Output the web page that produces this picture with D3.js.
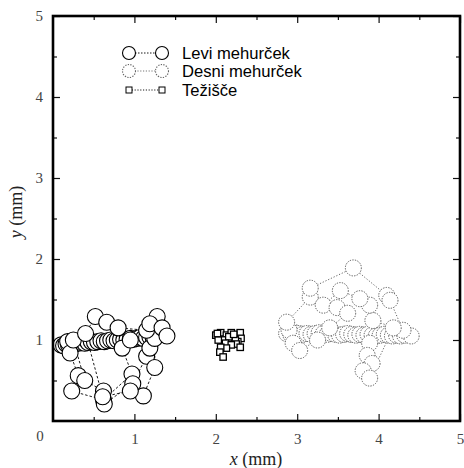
<!DOCTYPE html>
<html>
<head>
<meta charset="utf-8">
<script src="https://cdn.jsdelivr.net/npm/d3@7"></script>
<style>
  html, body { margin: 0; padding: 0; background: #fff; }
  svg { display: block; }
</style>
</head>
<body>
<svg id="chart" width="464" height="468"></svg>
<script>
// Tick values for both axes (mm)
const majorTicks = [1, 2, 3, 4, 5];
const minorTicks = [0.5, 1.5, 2.5, 3.5, 4.5];

// Left bubble centre positions: dense horizontal run, then the scattered excursions
const leftX = [0.10,0.13,0.16,0.19,0.23,0.27,0.31,0.35,0.39,0.43,0.47,0.51,0.55,0.59,0.63,0.67,0.71,0.75,0.79,0.83,0.87,0.91,0.95,0.99,1.03,1.07,1.11,1.15,1.19,1.23,
  0.18,0.21,0.31,0.23,0.62,0.97,0.85,0.95,
  0.25,0.39,0.62,0.63,0.98,1.15,1.19,
  1.25,1.25,1.11,0.95,0.61,
  0.40,0.52,0.66,0.80,
  1.15,1.28,1.19,1.34,1.40];
const leftY = [0.94,0.93,0.95,0.94,0.96,0.95,0.96,0.97,0.96,0.97,0.98,0.97,0.98,0.99,0.98,0.99,1.00,0.99,1.00,1.01,1.00,1.01,1.02,1.01,1.02,1.03,1.02,1.03,1.04,1.03,
  0.98,0.84,0.56,0.37,0.26,0.58,0.90,1.00,
  1.00,0.50,0.37,0.21,0.46,0.80,0.90,
  1.02,0.66,0.31,0.37,0.30,
  1.08,1.29,1.22,1.15,
  1.12,1.29,1.20,1.15,1.05];

// Right bubble centre positions
const rightX = [2.87,2.92,2.97,3.02,3.07,3.12,3.17,3.22,3.27,3.32,3.37,3.42,3.47,3.52,3.57,3.62,3.67,3.72,3.77,3.82,3.87,3.92,3.97,4.02,4.07,4.12,4.17,4.22,4.27,4.32,4.40,
  2.90,2.87,3.16,3.16,3.69,4.10,4.14,4.30,
  3.93,3.89,3.77,3.53,3.32,3.49,3.62,3.40,
  2.95,3.03,3.25,
  3.89,3.86,3.92,3.81,3.89,4.18];
const rightY = [1.08,1.07,1.09,1.08,1.07,1.08,1.07,1.08,1.09,1.08,1.07,1.08,1.07,1.06,1.07,1.08,1.07,1.06,1.07,1.06,1.07,1.06,1.05,1.06,1.07,1.06,1.05,1.06,1.05,1.06,1.05,
  1.12,1.22,1.53,1.64,1.89,1.55,1.49,1.12,
  1.24,1.43,1.51,1.61,1.43,1.40,1.33,1.15,
  0.96,0.87,1.00,
  0.96,0.81,0.71,0.62,0.53,1.15];

// Centroid positions
const centerX = [2.00,2.06,2.13,2.19,2.30,2.31,2.27,2.24,2.15,2.09,2.03,2.02,2.16,2.22,2.12,2.25,2.19,2.30,2.13,2.06,2.05,2.09];
const centerY = [1.06,1.09,1.06,1.09,1.09,1.02,0.98,1.00,1.00,1.00,1.00,1.08,1.04,1.07,0.96,0.95,0.94,0.91,0.90,0.91,0.85,0.79];

const legendLabels = ["Levi mehurček", "Desni mehurček", "Težišče"];

const svg = d3.select("#chart");
const x = d3.scaleLinear().domain([0, 5]).range([53, 460]);
const y = d3.scaleLinear().domain([0, 5]).range([421, 16]);
const R = 8;

const pts = (xs, ys) => xs.map((v, i) => [v, ys[i]]);
const line = d3.line().x(d => x(d[0])).y(d => y(d[1]));

// Axes: inward ticks on all four sides
const serif = "'Liberation Serif', 'Times New Roman', serif";
function styleAxis(g, hideLabels) {
  g.select(".domain").remove();
  g.selectAll(".tick line").attr("stroke", "#111").attr("stroke-width", 1.2);
  g.selectAll(".tick text").attr("font-family", serif).attr("font-size", 15).attr("fill", "#444");
  if (hideLabels) g.selectAll(".tick text").remove();
}
svg.append("g").attr("transform", `translate(0,${y(0)})`)
  .call(d3.axisBottom(x).tickValues(majorTicks).tickSize(-7).tickPadding(12).tickFormat(d3.format("d")))
  .call(g => styleAxis(g, false));
svg.append("g").attr("transform", `translate(0,${y(0)})`)
  .call(d3.axisBottom(x).tickValues(minorTicks).tickSize(-4))
  .call(g => styleAxis(g, true));
svg.append("g").attr("transform", `translate(${x(0)},0)`)
  .call(d3.axisLeft(y).tickValues(majorTicks).tickSize(-7).tickPadding(10).tickFormat(d3.format("d")))
  .call(g => styleAxis(g, false));
svg.append("g").attr("transform", `translate(${x(0)},0)`)
  .call(d3.axisLeft(y).tickValues(minorTicks).tickSize(-4))
  .call(g => styleAxis(g, true));
svg.append("g").attr("transform", `translate(0,${y(5)})`)
  .call(d3.axisTop(x).tickValues(majorTicks).tickSize(-7))
  .call(g => styleAxis(g, true));
svg.append("g").attr("transform", `translate(0,${y(5)})`)
  .call(d3.axisTop(x).tickValues(minorTicks).tickSize(-4))
  .call(g => styleAxis(g, true));
svg.append("g").attr("transform", `translate(${x(5)},0)`)
  .call(d3.axisRight(y).tickValues(majorTicks).tickSize(-7))
  .call(g => styleAxis(g, true));
svg.append("g").attr("transform", `translate(${x(5)},0)`)
  .call(d3.axisRight(y).tickValues(minorTicks).tickSize(-4))
  .call(g => styleAxis(g, true));

// shared origin label
svg.append("text").attr("x", x(0) - 13).attr("y", y(0) + 20)
  .attr("text-anchor", "middle").attr("font-family", serif).attr("font-size", 15).attr("fill", "#444").text("0");

// Axis titles
const xt = svg.append("text").attr("x", 256).attr("y", 465).attr("text-anchor", "middle")
  .attr("font-family", serif).attr("font-size", 18).attr("fill", "#222");
xt.append("tspan").attr("font-style", "italic").text("x");
xt.append("tspan").text(" (mm)");
const yt = svg.append("text").attr("transform", "translate(22,212) rotate(-90)").attr("text-anchor", "middle")
  .attr("font-family", serif).attr("font-size", 18).attr("fill", "#222");
yt.append("tspan").attr("font-style", "italic").text("y");
yt.append("tspan").text(" (mm)");

// Right bubble (dotted grey)
const rightPts = pts(rightX, rightY);
svg.append("path").datum(rightPts).attr("d", line).attr("fill", "none")
  .attr("stroke", "#555").attr("stroke-width", 0.9).attr("stroke-dasharray", "1.2,1.8");
svg.append("g").selectAll("circle").data(rightPts).join("circle")
  .attr("cx", d => x(d[0])).attr("cy", d => y(d[1])).attr("r", R)
  .attr("fill", "#fff").attr("stroke", "#555").attr("stroke-width", 1).attr("stroke-dasharray", "1.3,1.3");

// Left bubble (solid outlines, dashed track)
const leftPts = pts(leftX, leftY);
svg.append("path").datum(leftPts).attr("d", line).attr("fill", "none")
  .attr("stroke", "#000").attr("stroke-width", 0.9).attr("stroke-dasharray", "2.5,2");
svg.append("g").selectAll("circle").data(leftPts).join("circle")
  .attr("cx", d => x(d[0])).attr("cy", d => y(d[1])).attr("r", R)
  .attr("fill", "#fff").attr("stroke", "#000").attr("stroke-width", 1.1);

// Centroid track
const centerPts = pts(centerX, centerY);
svg.append("path").datum(centerPts).attr("d", line).attr("fill", "none")
  .attr("stroke", "#000").attr("stroke-width", 0.8).attr("stroke-dasharray", "1,1.5");
svg.append("g").selectAll("rect").data(centerPts).join("rect")
  .attr("x", d => x(d[0]) - 3.2).attr("y", d => y(d[1]) - 3.2).attr("width", 6.4).attr("height", 6.4)
  .attr("fill", "#fff").attr("stroke", "#000").attr("stroke-width", 1.3);

// Plot frame
svg.append("rect").attr("x", x(0)).attr("y", y(5)).attr("width", x(5) - x(0)).attr("height", y(0) - y(5))
  .attr("fill", "none").attr("stroke", "#000").attr("stroke-width", 2.6);

// Legend
const sans = "'Liberation Sans', Arial, sans-serif";
const lg = svg.append("g");
const rows = [53, 71, 90];
const lx1 = 129, lx2 = 162;
rows.forEach((ry, i) => {
  const dash = i === 0 ? "1.5,1.5" : "1.2,1.6";
  lg.append("line").attr("x1", lx1).attr("x2", lx2).attr("y1", ry).attr("y2", ry)
    .attr("stroke", i === 1 ? "#666" : "#000").attr("stroke-width", 0.9).attr("stroke-dasharray", dash);
  [lx1, lx2].forEach(cx => {
    if (i === 2) {
      lg.append("rect").attr("x", cx - 3).attr("y", ry - 3).attr("width", 6).attr("height", 6)
        .attr("fill", "#fff").attr("stroke", "#000").attr("stroke-width", 1);
    } else {
      lg.append("circle").attr("cx", cx).attr("cy", ry).attr("r", 6.5).attr("fill", "#fff")
        .attr("stroke", i === 1 ? "#666" : "#000").attr("stroke-width", 1.1)
        .attr("stroke-dasharray", i === 1 ? "1.3,1.3" : null);
    }
  });
  lg.append("text").attr("x", 182).attr("y", ry + 5.8).attr("font-family", sans).attr("font-size", 16.6)
    .attr("fill", "#000").text(legendLabels[i]);
});
</script>
</body>
</html>
